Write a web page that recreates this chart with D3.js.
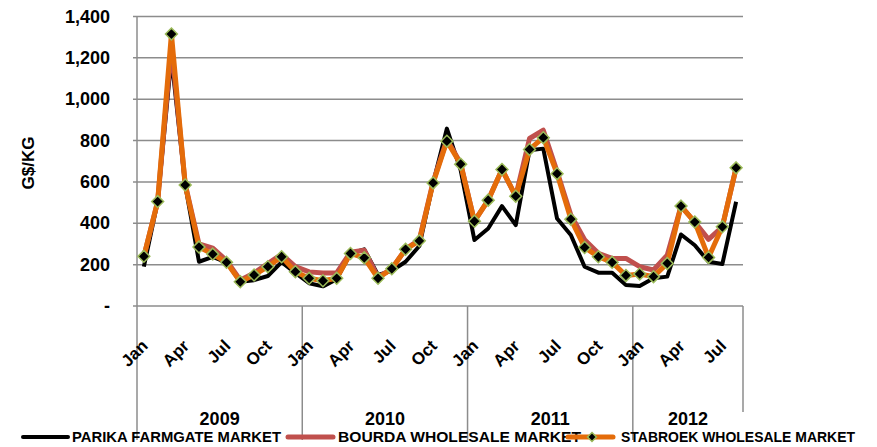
<!DOCTYPE html>
<html>
<head>
<meta charset="utf-8">
<script src="https://cdn.jsdelivr.net/npm/d3@7"></script>
<style>
  body { margin: 0; background: #fff; }
  text { font-family: "Liberation Sans", Arial, sans-serif; font-weight: bold; fill: #000; }
</style>
</head>
<body>
<script>
'use strict';
// month labels and years on the category axis
let monthNames = ["Jan","Feb","Mar","Apr","May","Jun","Jul","Aug","Sep","Oct","Nov","Dec"];
let years = ["2009", "2010", "2011", "2012"];
let shownMonths = ["Jan", "Apr", "Jul", "Oct"];
let yTicks = [0, 200, 400, 600, 800, 1000, 1200, 1400];

// G$/KG, Jan 2009 .. Aug 2012
let parika = [190, 505, 1200, 585, 214, 238, 211, 117, 125, 145, 212, 160,
              110, 95, 130, 254, 274, 150, 170, 214, 290, 595, 858, 657,
              319, 375, 483, 391, 753, 761, 423, 343, 190, 161, 161, 101,
              97, 134, 142, 346, 294, 214, 203, 504];
let bourda = [240, 505, 1260, 590, 300, 280, 220, 125, 160, 205, 250, 190,
              165, 160, 160, 260, 270, 140, 180, 275, 320, 600, 805, 690,
              410, 512, 660, 531, 810, 850, 650, 440, 320, 255, 230, 230,
              190, 174, 246, 483, 406, 322, 383, 668];
let stabroek = [240, 505, 1315, 585, 285, 251, 211, 117, 150, 190, 238, 166,
                134, 122, 134, 254, 233, 134, 180, 274, 315, 595, 797, 686,
                410, 512, 660, 531, 757, 814, 640, 420, 283, 238, 211, 148,
                155, 142, 206, 483, 406, 235, 383, 668];

let seriesNames = ["PARIKA FARMGATE MARKET", "BOURDA WHOLESALE MARKET", "STABROEK WHOLESALE MARKET"];
let colors = ["#000000", "#C0504D", "#E46C0A"];

let categories = [];
for (let i = 0; i < stabroek.length; i++) {
	categories.push(years[Math.floor(i / 12)] + "-" + monthNames[i % 12]);
}

let W = 877, H = 447;
let pLeft = 137, pRight = 743, pTop = 16.5, pBottom = 306;

let svg = d3.select("body").append("svg")
	.attr("width", W)
	.attr("height", H);

let x = d3.scaleBand().domain(categories).range([pLeft, pRight]);
let y = d3.scaleLinear().domain([0, 1400]).range([pBottom, pTop]);
let xc = function(d){ return x(d) + x.bandwidth() / 2; };

// gridlines
svg.selectAll("line.grid")
	.data(yTicks.slice(1))
	.enter().append("line")
		.attr("class", "grid")
		.attr("x1", pLeft - 4).attr("x2", pRight)
		.attr("y1", function(d){ return y(d); })
		.attr("y2", function(d){ return y(d); })
		.attr("stroke", "#8c8c8c")
		.attr("stroke-width", 1.5);

// y labels
svg.selectAll("text.ylab")
	.data(yTicks)
	.enter().append("text")
		.attr("class", "ylab")
		.attr("x", 110)
		.attr("y", function(d){ return y(d) + 6; })
		.attr("text-anchor", "end")
		.style("font-size", "18px")
		.text(function(d){ return d === 0 ? "-" : d3.format(",")(d); });

svg.append("text")
	.attr("transform", "translate(34,163) rotate(-90)")
	.attr("text-anchor", "middle")
	.style("font-size", "17px")
	.text("G$/KG");

// axes lines
svg.append("line")
	.attr("x1", pLeft).attr("x2", pLeft)
	.attr("y1", pTop).attr("y2", 440)
	.attr("stroke", "#8c8c8c").attr("stroke-width", 1.5);
svg.append("line")
	.attr("x1", pLeft - 4).attr("x2", pRight)
	.attr("y1", pBottom).attr("y2", pBottom)
	.attr("stroke", "#8c8c8c").attr("stroke-width", 1.5);

// year separators
let yearStarts = categories.filter(function(d, i){ return i % 12 === 0 && i > 0; });
svg.selectAll("line.sep")
	.data(yearStarts)
	.enter().append("line")
		.attr("class", "sep")
		.attr("x1", function(d){ return x(d); })
		.attr("x2", function(d){ return x(d); })
		.attr("y1", pBottom).attr("y2", 440)
		.attr("stroke", "#8c8c8c").attr("stroke-width", 1.5);
svg.append("line")
	.attr("x1", pRight).attr("x2", pRight)
	.attr("y1", pBottom).attr("y2", 412)
	.attr("stroke", "#8c8c8c").attr("stroke-width", 1.5);

// month tick labels
let labeled = categories.filter(function(d){ return shownMonths.indexOf(d.split("-")[1]) >= 0; });
svg.selectAll("text.xlab")
	.data(labeled)
	.enter().append("text")
		.attr("class", "xlab")
		.attr("text-anchor", "end")
		.attr("transform", function(d){ return "translate(" + (xc(d) + 5) + ",347) rotate(-45)"; })
		.style("font-size", "17px")
		.text(function(d){ return d.split("-")[1]; });

// year labels
svg.selectAll("text.year")
	.data(years)
	.enter().append("text")
		.attr("class", "year")
		.attr("text-anchor", "middle")
		.attr("x", function(d){
			let inYear = categories.filter(function(c){ return c.indexOf(d) === 0; });
			return (x(inYear[0]) + x(inYear[inYear.length - 1]) + x.bandwidth()) / 2;
		})
		.attr("y", 425)
		.style("font-size", "18px")
		.text(function(d){ return d; });

// lines
let line = d3.line()
	.x(function(d, i){ return xc(categories[i]); })
	.y(function(d){ return y(d); });

let allSeries = [parika, bourda, stabroek];
let widths = [4, 5, 5];
svg.selectAll("path.series")
	.data(allSeries)
	.enter().append("path")
		.attr("class", "series")
		.attr("d", line)
		.attr("fill", "none")
		.attr("stroke", function(d, i){ return colors[i]; })
		.attr("stroke-width", function(d, i){ return widths[i]; })
		.attr("stroke-linejoin", "round");

let diamond = d3.symbol().type(d3.symbolDiamond2).size(90);
svg.selectAll("path.marker")
	.data(stabroek)
	.enter().append("path")
		.attr("class", "marker")
		.attr("d", diamond)
		.attr("transform", function(d, i){ return "translate(" + xc(categories[i]) + "," + y(d) + ")"; })
		.attr("fill", "#000")
		.attr("stroke", "#9BBB59")
		.attr("stroke-width", 1.5);

// legend
let legX = [23, 288, 568];
let legTextX = [72, 338, 621];
let legTextW = [209, 243, 234];
let lg = svg.selectAll("g.leg")
	.data(seriesNames)
	.enter().append("g")
		.attr("class", "leg");
lg.append("line")
	.attr("x1", function(d, i){ return legX[i]; })
	.attr("x2", function(d, i){ return legX[i] + 45; })
	.attr("y1", 437).attr("y2", 437)
	.attr("stroke", function(d, i){ return colors[i]; })
	.attr("stroke-width", function(d, i){ return widths[i]; })
	.attr("stroke-linecap", "round");
lg.append("text")
	.attr("x", function(d, i){ return legTextX[i]; })
	.attr("y", 442)
	.attr("textLength", function(d, i){ return legTextW[i]; })
	.attr("lengthAdjust", "spacingAndGlyphs")
	.style("font-family", "'Liberation Sans Narrow', sans-serif")
	.style("font-size", "15px")
	.text(function(d){ return d; });
svg.append("path")
	.attr("d", d3.symbol().type(d3.symbolDiamond2).size(50))
	.attr("transform", "translate(592,437)")
	.attr("fill", "#000")
	.attr("stroke", "#9BBB59")
	.attr("stroke-width", 1.5);
</script>
</body>
</html>
